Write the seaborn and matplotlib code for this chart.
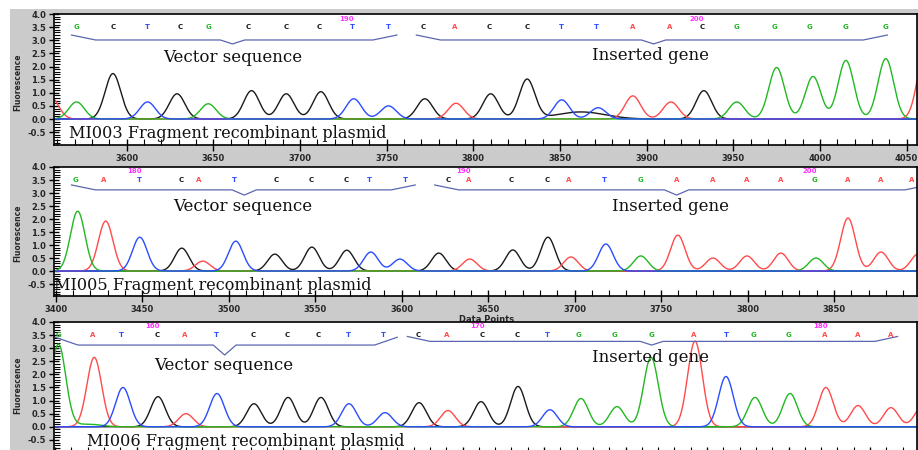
import numpy as np
import pandas as pd
import matplotlib
matplotlib.use("Agg")
import matplotlib.pyplot as plt
import seaborn as sns
from matplotlib.patches import Rectangle
from matplotlib.ticker import MultipleLocator, FormatStrFormatter

sns.set_theme(style="white")
plt.rcParams["font.family"] = ["DejaVu Sans"]

# ---------------- data ----------------
channel_colors = {"A": "#ff4a4a", "C": "#1a1a1a", "G": "#22b822", "T": "#2a4cff"}

# Panel 1 (MI003)
p1_title = "MI003 Fragment recombinant plasmid"
p1_xlim = (3558, 4056)
p1_peak_ch = list("AGCTCGCCCTTCACCTTCAACGGGGGA")
p1_peak_x = [3556, 3571, 3592, 3612, 3629, 3647, 3672, 3692, 3712, 3731, 3751, 3772, 3790,
             3810, 3831, 3851, 3872, 3862, 3892, 3914, 3933, 3952, 3975, 3996, 4015, 4038, 4061]
p1_peak_h = [0.85, 0.65, 1.73, 0.65, 0.96, 0.58, 1.08, 0.96, 1.04, 0.77, 0.50, 0.77, 0.60,
             0.96, 1.50, 0.73, 0.43, 0.27, 0.88, 0.65, 1.08, 0.65, 1.96, 1.62, 2.23, 2.30, 2.70]
p1_peak_w = [4.5] * 17 + [14] + [4.5] * 9
p1_bases = "GCTCGCCCTTCACCTTAACGGGGG"
p1_base_x = [3571, 3592, 3612, 3631, 3647, 3670, 3692, 3711, 3730, 3751, 3771, 3789, 3809,
             3831, 3851, 3871, 3892, 3913, 3932, 3952, 3974, 3994, 4015, 4038]
p1_first_base = 182

# Panel 2 (MI005)
p2_title = "MI005 Fragment recombinant plasmid"
p2_xlim = (3399, 3898)
p2_peak_ch = list("GATCATCCCTTCACCATGAAAAGAAA")
p2_peak_x = [3412.7, 3428.9, 3448.6, 3472.9, 3485.0, 3504.1, 3526.7, 3548.1, 3568.3, 3582.2,
             3599.0, 3621.5, 3639.4, 3664.3, 3684.6, 3697.9, 3718.1, 3738.3, 3759.7, 3780.0,
             3799.7, 3819.3, 3839.6, 3858.1, 3877.2, 3898.6]
p2_peak_h = [2.30, 1.92, 1.30, 0.88, 0.38, 1.15, 0.65, 0.92, 0.80, 0.73, 0.46, 0.69, 0.46,
             0.81, 1.30, 0.54, 1.04, 0.58, 1.38, 0.50, 0.58, 0.69, 0.50, 2.04, 0.73, 0.65]
p2_peak_w = [4.2] * 26
p2_bases = "GATCATCCCTTCACCATGAAAAGAAA"
p2_base_x = [3411.6, 3427.8, 3448.6, 3472.3, 3482.7, 3503.5, 3527.2, 3547.5, 3567.7, 3581.6,
             3602.4, 3626.7, 3638.9, 3663.2, 3684.0, 3696.7, 3717.5, 3738.3, 3759.2, 3780.0,
             3799.7, 3819.3, 3839.0, 3858.1, 3877.2, 3895.1]
p2_first_base = 178

# Panel 3 (MI006)
p3_title = "MI006 Fragment recombinant plasmid"
p3_xlim = (3399.3, 3928.8)
p3_peak_ch = list("GGATCATCCCTTCACCTGGGATGGAAAA")
p3_peak_x = [3402, 3420, 3424, 3441.6, 3463.1, 3480.3, 3499.3, 3522.0, 3542.9, 3563.1, 3580.3,
             3602.4, 3623.3, 3641.0, 3661.3, 3684.0, 3703.6, 3722.6, 3744.7, 3765.6, 3792.6,
             3811.6, 3829.4, 3850.9, 3872.9, 3892.6, 3912.8, 3931.8]
p3_peak_h = [3.15, 0.10, 2.65, 1.50, 1.15, 0.50, 1.27, 0.88, 1.12, 1.12, 0.88, 0.54, 0.92,
             0.62, 0.96, 1.54, 0.65, 1.08, 0.77, 2.65, 3.27, 1.92, 1.12, 1.27, 1.50, 0.81,
             0.73, 0.75]
p3_peak_w = [4.5, 8] + [4.5] * 26
p3_bases = "GATCATCCCTTCACCTGGGATGGAAA"
p3_base_x = [3401.8, 3423.3, 3440.4, 3462.5, 3479.7, 3498.7, 3521.4, 3542.3, 3561.3, 3579.7,
             3601.2, 3622.6, 3640.4, 3661.9, 3683.4, 3701.8, 3721.4, 3743.5, 3765.6, 3792.0,
             3811.6, 3828.2, 3850.2, 3872.3, 3892.6, 3912.8]
p3_first_base = 157

region_labels = ["Vector sequence", "Inserted gene"]

# ---------------- layout (pixels) ----------------
W, H = 918, 450
fig = plt.figure(figsize=(W / 100, H / 100), dpi=100)
fig.patch.set_facecolor("white")
fig.patches.append(Rectangle((10 / W, 0), 1, 1 - 9 / H, transform=fig.transFigure,
                             facecolor="#cbcbcb", edgecolor="none", zorder=-3))

def px_axes(left, top, right, bottom):
    return [left / W, 1 - bottom / H, (right - left) / W, (bottom - top) / H]

def ftext(x, y, s, **kw):
    return fig.text(x / W, 1 - y / H, s, **kw)

panels = [
    dict(box=(54, 14, 917, 145), ylim=(-0.99, 4.0), xlim=p1_xlim, ch=p1_peak_ch, px=p1_peak_x,
         ph=p1_peak_h, pw=p1_peak_w, bases=p1_bases, bx=p1_base_x, first=p1_first_base,
         braces=[(3568, 3661, 3756, 3.20, 3.01, 2.86), (3767, 3904, 4039, 3.20, 3.01, 2.86)],
         texts=[(233, 57), (651, 55)], title=p1_title, title_pos=(69, 133), ylab=82,
         letter_y=3.5, num_y=3.82, xlabels=True),
    dict(box=(54, 167, 917, 296), ylim=(-0.96, 4.0), xlim=p2_xlim, ch=p2_peak_ch, px=p2_peak_x,
         ph=p2_peak_h, pw=p2_peak_w, bases=p2_bases, bx=p2_base_x, first=p2_first_base,
         braces=[(3409, 3509, 3608, 3.31, 3.12, 2.92), (3619, 3759, 3905, 3.31, 3.12, 2.92)],
         texts=[(243, 207), (670, 207)], title=p2_title, title_pos=(54, 286), ylab=233,
         letter_y=3.5, num_y=3.84, xlabels=True),
    dict(box=(54, 322, 917, 453), ylim=(-1.0, 4.0), xlim=p3_xlim, ch=p3_peak_ch, px=p3_peak_x,
         ph=p3_peak_h, pw=p3_peak_w, bases=p3_bases, bx=p3_base_x, first=p3_first_base,
         braces=[(3400, 3504, 3610, 3.42, 3.12, 2.74), (3616, 3766, 3917, 3.45, 3.26, 3.12)],
         texts=[(224, 366), (651, 357)], title=p3_title, title_pos=(87, 442), ylab=385,
         letter_y=3.5, num_y=3.84, xlabels=False),
]

for P in panels:
    ax = fig.add_axes(px_axes(*P["box"]))
    ax.set_facecolor("white")
    ax.set_xlim(*P["xlim"])
    ax.set_ylim(*P["ylim"])

    grid = np.linspace(P["xlim"][0] - 30, P["xlim"][1] + 30, 4000)
    rows = []
    for c in ["C", "A", "G", "T"]:
        y = np.zeros_like(grid)
        for ch, x0, h, w in zip(P["ch"], P["px"], P["ph"], P["pw"]):
            if ch == c:
                y += h * np.exp(-0.5 * ((grid - x0) / w) ** 2)
        rows.append(pd.DataFrame({"x": grid, "y": y, "ch": c}))
    df = pd.concat(rows, ignore_index=True)
    sns.lineplot(data=df, x="x", y="y", hue="ch", hue_order=["C", "A", "G", "T"],
                 palette=channel_colors, estimator=None, sort=False, legend=False,
                 linewidth=1.0, ax=ax)
    ax.set_xlabel("")
    ax.set_ylabel("")

    # base calls
    for i, (b, x) in enumerate(zip(P["bases"], P["bx"])):
        ax.text(x, P["letter_y"], b, color=channel_colors[b], fontsize=5,
                fontweight="bold", ha="center", va="center")
        if (P["first"] + i) % 10 == 0:
            ax.text(x - 3, P["num_y"], str(P["first"] + i), color="#ff33ff", fontsize=5,
                    fontweight="bold", ha="center", va="center")

    # braces
    for (x0, xm, x1, ye, yb, yt) in P["braces"]:
        d, t = 14, 7
        xs = [x0, x0 + d, xm - t, xm, xm + t, x1 - d, x1]
        ys = [ye, yb, yb, yt, yb, yb, ye]
        ax.plot(xs, ys, color="#5b66b0", lw=0.9, clip_on=True)

    # ticks
    ax.yaxis.set_minor_locator(MultipleLocator(0.1))
    ax.yaxis.set_major_formatter(FormatStrFormatter("%.1f"))
    ax.set_yticks(np.arange(-0.5, 4.01, 0.5))
    ax.xaxis.set_major_locator(MultipleLocator(50))
    ax.xaxis.set_minor_locator(MultipleLocator(10))
    ax.tick_params(axis="both", which="major", direction="inout", length=9, width=1,
                   color="black", labelsize=6, pad=2)
    ax.tick_params(axis="y", which="major", length=7)
    ax.tick_params(axis="both", which="minor", direction="in", length=4, width=0.8,
                   color="black")
    ax.tick_params(left=True, bottom=True, which="both")
    if not P["xlabels"]:
        ax.tick_params(axis="x", which="both", labelbottom=False)
    for lab in ax.get_xticklabels() + ax.get_yticklabels():
        lab.set_fontweight("bold")
    for s in ax.spines.values():
        s.set_color("black")
        s.set_linewidth(1.2)

    # annotations
    for (tx, ty), s in zip(P["texts"], region_labels):
        ftext(tx, ty, s, family="DejaVu Serif", fontsize=12, ha="center", va="center",
              color="#111111", zorder=5)
    ftext(P["title_pos"][0], P["title_pos"][1], P["title"], family="DejaVu Serif",
          fontsize=11.6, ha="left", va="center", color="#111111", zorder=5)
    ftext(18, P["ylab"], "Fluorescence", rotation=90, fontsize=5.5, fontweight="bold",
          ha="center", va="center", zorder=5)

ftext(487, 319, "Data Points", fontsize=6, fontweight="bold", ha="center", va="center",
      zorder=-1)

fig.savefig("out.png", dpi=100, facecolor=fig.get_facecolor())
